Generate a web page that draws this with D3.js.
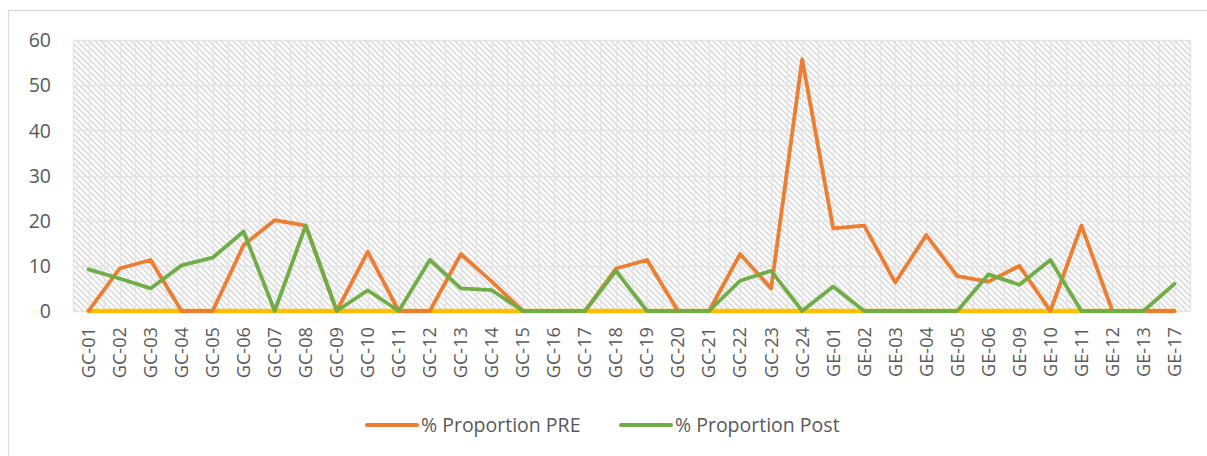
<!DOCTYPE html>
<html>
<head>
<meta charset="utf-8">
<script src="https://cdn.jsdelivr.net/npm/d3@7"></script>
<style>
  html, body { margin: 0; padding: 0; background: #fff; }
  svg { display: block; }
  text { font-family: "Open Sans", Lato, sans-serif; fill: #595959; }
</style>
</head>
<body>
<svg id="chart" width="1207" height="456"></svg>
<script>
// Group codes along the x axis
const categories = [
  "GC-01","GC-02","GC-03","GC-04","GC-05","GC-06","GC-07","GC-08","GC-09","GC-10",
  "GC-11","GC-12","GC-13","GC-14","GC-15","GC-16","GC-17","GC-18","GC-19","GC-20",
  "GC-21","GC-22","GC-23","GC-24",
  "GE-01","GE-02","GE-03","GE-04","GE-05","GE-06","GE-09","GE-10","GE-11","GE-12","GE-13","GE-17"
];

// % Proportion PRE
const preValues = [
  0, 9.4, 11.3, 0, 0, 14.6, 20.1, 18.9, 0, 13.1,
  0, 0, 12.6, 6.5, 0, 0, 0, 9.4, 11.3, 0,
  0, 12.6, 5.0, 55.7,
  18.3, 18.9, 6.3, 16.8, 7.7, 6.5, 10.0, 0, 18.9, 0, 0, 0
];

// % Proportion Post
const postValues = [
  9.2, 7.2, 5.0, 10.1, 11.8, 17.6, 0, 18.9, 0, 4.6,
  0, 11.3, 5.0, 4.6, 0, 0, 0, 8.9, 0, 0,
  0, 6.7, 8.9, 0,
  5.4, 0, 0, 0, 0, 8.1, 5.8, 11.3, 0, 0, 0, 6.0
];

// Baseline series (all zero)
const baseValues = categories.map(() => 0);

const yTicks = [0, 10, 20, 30, 40, 50, 60];
const legendLabels = ["% Proportion PRE", "% Proportion Post"];

const svg = d3.select("#chart");
const plot = { left: 73, right: 1190, top: 40, bottom: 311 };
const FONT = "'Open Sans', Lato, sans-serif";

// Chart frame
svg.append("rect")
  .attr("x", 8.5).attr("y", 10.5)
  .attr("width", 1205).attr("height", 460)
  .attr("fill", "#fff")
  .attr("stroke", "#d9d9d9").attr("stroke-width", 1.2);

// Diagonal hatch fill for the plot area
const defs = svg.append("defs");
const pat = defs.append("pattern")
  .attr("id", "hatch")
  .attr("patternUnits", "userSpaceOnUse")
  .attr("width", 6).attr("height", 6);
pat.append("rect").attr("width", 6).attr("height", 6).attr("fill", "#fff");
pat.append("path")
  .attr("d", "M-1,-1 L7,7 M-1,5 L1,7 M5,-1 L7,1")
  .attr("stroke", "#dcdcdc").attr("stroke-width", 1.6);

const x = d3.scaleBand()
  .domain(categories)
  .range([plot.left, plot.right])
  .paddingInner(0).paddingOuter(0);

const y = d3.scaleLinear()
  .domain([0, 60])
  .range([plot.bottom, plot.top]);

const cx = d => x(d) + x.bandwidth() / 2;

svg.append("rect")
  .attr("x", plot.left).attr("y", plot.top)
  .attr("width", plot.right - plot.left)
  .attr("height", plot.bottom - plot.top)
  .attr("fill", "url(#hatch)");

// Vertical gridlines at band edges and centres
const vLines = [];
categories.forEach(c => { vLines.push(x(c)); vLines.push(cx(c)); });
vLines.push(plot.right);
svg.append("g").selectAll("line")
  .data(vLines).join("line")
  .attr("x1", d => Math.round(d) + 0.5).attr("x2", d => Math.round(d) + 0.5)
  .attr("y1", plot.top).attr("y2", plot.bottom)
  .attr("stroke", "#e3e3e3").attr("stroke-width", 1.3);

// Horizontal gridlines
svg.append("g").selectAll("line")
  .data(yTicks).join("line")
  .attr("x1", plot.left).attr("x2", plot.right)
  .attr("y1", d => Math.round(y(d)) + 0.5).attr("y2", d => Math.round(y(d)) + 0.5)
  .attr("stroke", "#e3e3e3").attr("stroke-width", 1.3);

// Y axis labels
const yAxis = d3.axisLeft(y).tickValues(yTicks).tickSize(0).tickPadding(0);
const yg = svg.append("g").attr("transform", "translate(51,0)").call(yAxis);
yg.select(".domain").remove();
yg.selectAll("text")
  .attr("font-size", 19.5).attr("font-family", FONT)
  .attr("fill", "#595959").attr("dy", "0.35em");

// X axis labels, rotated
const xAxis = d3.axisBottom(x).tickSize(0).tickPadding(0);
const xg = svg.append("g").attr("transform", `translate(0,${plot.bottom})`).call(xAxis);
xg.select(".domain").remove();
xg.selectAll("text")
  .attr("font-size", 18.2).attr("font-family", FONT)
  .attr("fill", "#595959")
  .attr("text-anchor", "end")
  .attr("transform", "translate(0,16) rotate(-90)")
  .attr("x", 0).attr("y", 0).attr("dy", "0.35em");

// Series lines
const line = d3.line()
  .x((d, i) => cx(categories[i]))
  .y(d => y(d));

svg.append("path").datum(baseValues)
  .attr("d", line).attr("fill", "none")
  .attr("stroke", "#ffc000").attr("stroke-width", 4.4).attr("stroke-linecap", "round");

svg.append("path").datum(preValues)
  .attr("d", line).attr("fill", "none")
  .attr("stroke", "#ed7d31").attr("stroke-width", 3.8)
  .attr("stroke-linejoin", "round").attr("stroke-linecap", "round");

svg.append("path").datum(postValues)
  .attr("d", line).attr("fill", "none")
  .attr("stroke", "#70ad47").attr("stroke-width", 3.8)
  .attr("stroke-linejoin", "round").attr("stroke-linecap", "round");

// Legend
const legendItems = [
  { label: legendLabels[0], color: "#ed7d31", x: 367 },
  { label: legendLabels[1], color: "#70ad47", x: 621 }
];
const lg = svg.append("g");
legendItems.forEach(it => {
  lg.append("line")
    .attr("x1", it.x).attr("x2", it.x + 50)
    .attr("y1", 425).attr("y2", 425)
    .attr("stroke", it.color).attr("stroke-width", 4).attr("stroke-linecap", "round");
  lg.append("text")
    .attr("x", it.x + 54).attr("y", 425).attr("dy", "0.35em")
    .attr("font-size", 19.5).attr("font-family", FONT).attr("fill", "#595959")
    .text(it.label);
});
</script>
</body>
</html>
